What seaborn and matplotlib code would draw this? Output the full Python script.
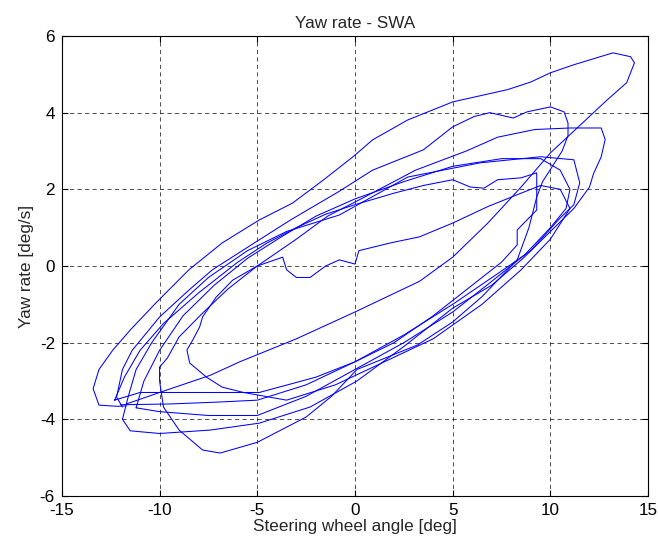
import numpy as np
import pandas as pd
import matplotlib
matplotlib.use("Agg")
import matplotlib.pyplot as plt
import seaborn as sns

# ---- data ----
loop1_x = [-11.7,-12.2,-13.1,-13.4,-13.1,-12.4,-11.5,-10.2,-8.5,-6.8,-4.9,-3.2,-1.6,-0.1,0.9,2.7,5.0,7.8,9.0,10.0,11.2,13.2,14.1,14.3,13.9,12.9,10.0,8.5,6.8,5.0,3.3,0.0,-3.0,-5.9,-7.4,-10.0,-11.7]
loop1_y = [-3.65,-3.66,-3.63,-3.2,-2.7,-2.2,-1.67,-0.97,-0.1,0.6,1.2,1.64,2.25,2.85,3.29,3.81,4.28,4.6,4.8,5.04,5.25,5.56,5.46,5.3,4.78,4.33,2.95,2.06,1.12,0.23,-0.4,-1.2,-1.9,-2.5,-2.85,-3.3,-3.6]

loop2_x = [-11.9,-12.2,-11.9,-11.4,-10.0,-8.5,-7.3,-5.0,-3.3,-0.8,0.9,3.5,5.0,6.1,6.9,8.1,8.8,10.0,10.7,10.9,10.9,10.6,10.1,9.6,9.3,8.9,8.3,6.5,5.0,3.2,0.1,-1.2,-2.5,-5.0,-6.9,-7.8,-9.0,-9.8,-10.0,-10.0]
loop2_y = [-3.68,-3.42,-2.7,-2.2,-1.33,-0.63,-0.1,0.65,1.2,1.95,2.5,3.03,3.63,3.9,4.0,3.86,4.02,4.15,4.02,3.73,3.4,3.0,2.6,2.2,1.8,1.0,0.16,-0.8,-1.46,-2.06,-2.7,-3.4,-3.94,-4.6,-4.88,-4.8,-4.28,-3.68,-3.0,-2.64]

loop3_x = [-10.0,-9.6,-9.0,-7.8,-6.5,-5.0,-3.0,-1.4,0.5,3.1,5.7,7.3,9.2,11.0,12.6,12.8,12.6,12.2,12.0,11.2,10.0,8.6,7.0,5.0,2.5,0.1,-2.3,-4.9,-7.4,-10.0,-11.5,-11.9,-11.6]
loop3_y = [-2.64,-2.4,-1.85,-1.23,-0.6,0.0,0.7,1.3,1.8,2.5,3.0,3.36,3.56,3.6,3.6,3.3,2.85,2.4,2.06,1.5,0.9,0.2,-0.5,-1.1,-2.1,-3.0,-3.68,-4.1,-4.28,-4.37,-4.3,-4.0,-3.4]

loop4_x = [-11.6,-11.2,-10.4,-9.0,-7.5,-5.5,-3.5,-0.8,2.7,6.4,9.5,11.2,11.5,11.2,10.4,9.0,7.3,5.0,2.5,0.0,-2.5,-5.0,-7.0,-9.5,-12.0]
loop4_y = [-3.4,-2.7,-2.0,-1.0,-0.3,0.4,0.9,1.33,2.32,2.69,2.85,2.77,2.17,1.6,1.2,0.4,-0.2,-1.0,-1.8,-2.5,-3.1,-3.5,-3.55,-3.6,-3.62]

loop5_x = [-5.7,-6.8,-7.6,-8.46,-8.6,-8.3,-7.95,-7.8,-7.1,-6.26,-5.0,-3.7,-3.5,-3.0,-2.3,-1.5,-0.8,0.0,0.2,1.8,3.3,5.0,6.8,8.5,9.5,10.5,11.0,10.0,8.5,6.5,4.0,1.5,-1.0,-3.5,-5.7]
loop5_y = [-3.3,-3.16,-2.9,-2.53,-2.19,-1.93,-1.59,-1.33,-0.81,-0.37,0.0,0.23,-0.1,-0.3,-0.3,0.0,0.16,0.05,0.4,0.6,0.76,1.12,1.55,1.9,2.1,2.0,1.5,0.7,-0.1,-1.0,-1.9,-2.5,-3.1,-3.5,-3.3]

loop6_x = [-12.3,-11.8,-11.0,-9.8,-8.0,-6.0,-4.5,-3.0,-1.5,0.0,2.0,3.5,5.0,5.9,6.6,7.3,8.5,9.3,9.3,8.8,8.3,8.3,7.5,6.0,4.0,2.0,0.0,-2.0,-4.9,-8.0,-11.0,-12.3]
loop6_y = [-3.5,-2.9,-2.2,-1.5,-0.7,0.1,0.6,1.0,1.35,1.6,1.9,2.1,2.25,2.06,2.03,2.25,2.3,2.43,1.46,1.2,0.94,0.55,0.1,-0.5,-1.3,-2.0,-2.5,-2.9,-3.3,-3.3,-3.3,-3.5]

loop7_x = [-11.2,-10.8,-10.0,-8.8,-7.2,-5.5,-3.8,-2.0,0.0,2.5,5.0,7.5,9.5,10.5,11.0,10.8,10.0,8.7,7.0,5.0,2.5,0.0,-2.5,-5.0,-7.5,-10.0,-11.2]
loop7_y = [-3.7,-3.0,-2.2,-1.3,-0.5,0.2,0.75,1.3,1.75,2.2,2.6,2.8,2.8,2.5,2.0,1.5,1.0,0.3,-0.4,-1.2,-2.0,-2.7,-3.4,-3.9,-3.9,-3.8,-3.7]

x_ticks = [-15, -10, -5, 0, 5, 10, 15]
y_ticks = [-6, -4, -2, 0, 2, 4, 6]

loops = [(loop1_x, loop1_y), (loop2_x, loop2_y), (loop3_x, loop3_y),
         (loop4_x, loop4_y), (loop5_x, loop5_y), (loop6_x, loop6_y),
         (loop7_x, loop7_y)]
frames = []
for i, (lx, ly) in enumerate(loops):
    frames.append(pd.DataFrame({"x": lx, "y": ly, "loop": i}))
df = pd.concat(frames, ignore_index=True)

sns.set_style("white")
plt.rcParams["font.family"] = ["Liberation Sans", "DejaVu Sans"]
plt.rcParams["axes.unicode_minus"] = False

FS = 12.3

fig = plt.figure(figsize=(6.58, 5.46), dpi=100)
ax = fig.add_axes([0.094, 0.0916, 0.891, 0.8425])

sns.lineplot(data=df, x="x", y="y", units="loop", estimator=None, sort=False,
             color="#0000ff", linewidth=0.75, ax=ax)

ax.set_xlim(-15, 15)
ax.set_ylim(-6, 6)
ax.set_xticks(x_ticks)
ax.set_yticks(y_ticks)
ax.grid(True, color="black", linestyle=(0, (5, 4)), linewidth=0.6, alpha=0.8)
ax.tick_params(direction="in", length=4, width=0.8, labelsize=FS, colors="black",
               top=True, right=True, bottom=True, left=True,
               labeltop=False, labelright=False)
ax.tick_params(axis="x", pad=5)
ax.tick_params(axis="y", pad=5)
for s in ax.spines.values():
    s.set_visible(True)
    s.set_color("black")
    s.set_linewidth(0.8)

ax.set_title("Yaw rate - SWA", fontsize=FS, pad=6)
ax.set_xlabel("Steering wheel angle [deg]", fontsize=FS, labelpad=1)
ax.set_ylabel("Yaw rate [deg/s]", fontsize=FS, labelpad=4)

fig.savefig("out.png", dpi=100)
